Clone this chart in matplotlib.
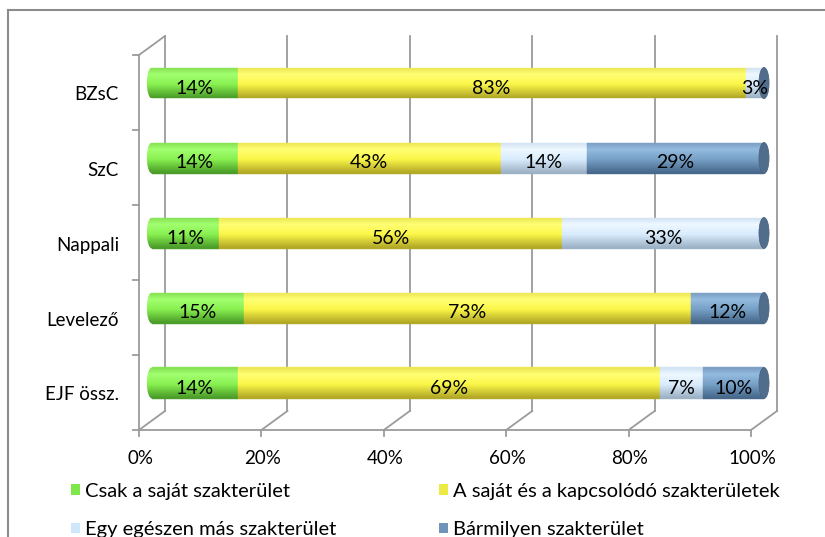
import numpy as np
import matplotlib
matplotlib.use("Agg")
import matplotlib.pyplot as plt
from matplotlib.transforms import ScaledTranslation
from matplotlib.patches import Ellipse, Patch
from matplotlib.lines import Line2D
from matplotlib.colors import to_rgb

plt.rcParams['font.family'] = ['Lato', 'DejaVu Sans']

categories = ['BZsC', 'SzC', 'Nappali', 'Levelező', 'EJF össz.']
series_names = ['Csak a saját szakterület',
                'A saját és a kapcsolódó szakterületek',
                'Egy egészen más szakterület',
                'Bármilyen szakterület']
csak = [14, 14, 11, 15, 14]
sajat_kapcs = [83, 43, 56, 73, 69]
mas = [3, 14, 33, 0, 7]
barmilyen = [0, 29, 0, 12, 10]
xticks = [0, 20, 40, 60, 80, 100]
xtick_labels = ['0%', '20%', '40%', '60%', '80%', '100%']

series = [csak, sajat_kapcs, mas, barmilyen]
# shading (top edge, highlight, mid, bottom)
shades = [
    ['#86e052', '#a2ff70', '#88f050', '#4a9a28'],
    ['#ece652', '#ffff74', '#faf648', '#b0a626'],
    ['#d0e2f2', '#eef8ff', '#d8ecfd', '#9cb0c4'],
    ['#7a9fc2', '#94badf', '#76a0c6', '#46678a'],
]
legend_colors = ['#7ee84a', '#eeea44', '#cfe6fb', '#6f94b8']
cap_color = '#506d8c'

W, H = 825, 537
fig = plt.figure(figsize=(W / 100, H / 100), dpi=100)
# mid-plane axes
x0, x1 = 152, 764
ytop, ybot = 45.5, 420.5
ax = fig.add_axes([x0 / W, 1 - ybot / H, (x1 - x0) / W, (ybot - ytop) / H])
ax.set_xlim(0, 100)
ax.set_ylim(-0.5, 4.5)
ax.axis('off')

def off(dx, dy):
    return ax.transData + ScaledTranslation(dx / 100, -dy / 100, fig.dpi_scale_trans)

pxx = (x1 - x0) / 100.0   # pixels per x unit
pxy = 75.0                # pixels per y unit
front = off(-13, 9.5)
back = off(13, -9.5)
gc = '#9b9b9b'
glw = 1.3
# back wall gridlines
for xv in xticks:
    ax.plot([xv, xv], [-0.5, 4.5], color=gc, lw=glw, transform=back, clip_on=False, zorder=1)
# left wall front edge and top diagonal
ax.plot([0, 0], [-0.5, 4.5], color=gc, lw=glw, transform=front, clip_on=False, zorder=1)
ax.plot([-13 / pxx, 13 / pxx], [4.5 - 9.5 / pxy, 4.5 + 9.5 / pxy], color=gc, lw=glw,
        clip_on=False, zorder=1)
# floor front edge and diagonals
ax.plot([0, 100], [-0.5, -0.5], color=gc, lw=glw, transform=front, clip_on=False, zorder=1)
for xv in xticks:
    ax.plot([xv - 13 / pxx, xv + 13 / pxx], [-0.5 - 9.5 / pxy, -0.5 + 9.5 / pxy],
            color=gc, lw=glw, clip_on=False, zorder=1)
    ax.plot([xv, xv], [-0.5, -0.5 - 6 / pxy], color=gc, lw=glw, transform=front,
            clip_on=False, zorder=1)
# left wall ticks
for yb in np.arange(-0.5, 4.6, 1.0):
    ax.plot([-6 / pxx, 0], [yb, yb], color=gc, lw=glw, transform=front, clip_on=False, zorder=1)

# x tick labels
for xv, lab in zip(xticks, xtick_labels):
    ax.text(xv, -0.5, lab, transform=off(-12, 38), ha='center', va='center',
            fontsize=13.5, color='#000000', clip_on=False)
# category labels
ypos = [4 - i for i in range(len(categories))]
for y, lab in zip(ypos, categories):
    ax.text(0, y, lab, transform=off(-33, 12), ha='right', va='center',
            fontsize=13.5, color='#000000', clip_on=False)

bh = 31 / pxy
N = 30
prof_t = [0.0, 0.22, 0.55, 1.0]

def strip_colors(shade):
    cols = [np.array(to_rgb(c)) for c in shade]
    out = []
    for k in range(N):
        t = (k + 0.5) / N
        for j in range(3):
            if prof_t[j] <= t <= prof_t[j + 1]:
                u = (t - prof_t[j]) / (prof_t[j + 1] - prof_t[j])
                out.append(cols[j] * (1 - u) + cols[j + 1] * u)
                break
    return out

capw = 10 / pxx
for bi, y in enumerate(ypos):
    left = 0.0
    # left rounded end
    el = Ellipse((0, y), capw, bh, facecolor='none', edgecolor='none', clip_on=False)
    ax.add_patch(el)
    cols0 = strip_colors(shades[0])
    for k in range(N):
        yk = y + bh / 2 - (k + 0.5) * bh / N
        r = ax.barh(yk, capw, left=-capw, height=bh / N, color=cols0[k], edgecolor=cols0[k],
                    lw=0.3, zorder=3)
        r[0].set_clip_box(None)
        r[0].set_clip_path(el)
    for si, s in enumerate(series):
        v = s[bi]
        if v > 0:
            cols = strip_colors(shades[si])
            for k in range(N):
                yk = y + bh / 2 - (k + 0.5) * bh / N
                ax.barh(yk, v, left=left, height=bh / N, color=cols[k], edgecolor=cols[k],
                        lw=0.3, zorder=3)
            ax.text(left + v / 2, y, f'{v}%', transform=off(0, 5), ha='center', va='center',
                    fontsize=14, color='#000000', zorder=6)
        left += v
    ax.add_patch(Ellipse((left, y), capw, bh, facecolor=cap_color, edgecolor='#4a6480',
                         lw=0.6, zorder=4, clip_on=False))

# outer frame
fig.add_artist(Line2D([8 / W, 1], [1 - 10 / H, 1 - 10 / H], color='#8c8c8c', lw=1.5,
                      transform=fig.transFigure))
fig.add_artist(Line2D([8 / W, 8 / W], [0, 1 - 10 / H], color='#8c8c8c', lw=1.5,
                      transform=fig.transFigure))

order = [0, 2, 1, 3]
handles = [Patch(facecolor=legend_colors[i], edgecolor='none') for i in order]
labels = [series_names[i] for i in order]
fig.legend(handles, labels, ncol=2, loc='upper left', bbox_to_anchor=(71 / W, 1 - 483 / H),
           frameon=False, fontsize=14.5, handlelength=0.45, handleheight=0.45,
           handletextpad=0.25, columnspacing=5.1, labelspacing=1.05,
           borderpad=0, borderaxespad=0)

fig.savefig('out.png', dpi=100, facecolor='white')
